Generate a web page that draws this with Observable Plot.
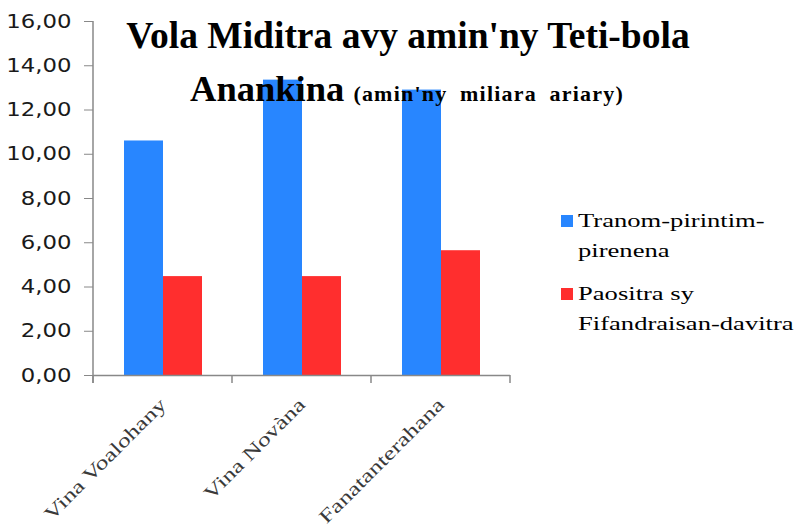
<!DOCTYPE html>
<html>
<head>
<meta charset="utf-8">
<script src="https://cdn.jsdelivr.net/npm/d3@7"></script>
<script src="https://cdn.jsdelivr.net/npm/@observablehq/plot@0.6"></script>
<style>
  html, body { margin: 0; padding: 0; background: #fff; }
  #chart { width: 798px; height: 530px; }
</style>
</head>
<body>
<div id="chart"></div>
<script>
const categories = ["Vina Voalohany", "Vina Novàna", "Fanatanterahana"];
const seriesNames = ["Tranom-pirintim-pirenena", "Paositra sy Fifandraisan-davitra"];
const tranomValues = [10.60, 13.35, 12.90];
const paositraValues = [4.47, 4.47, 5.64];
const yTicks = [0, 2, 4, 6, 8, 10, 12, 14, 16];
const seriesColors = ["#2886FF", "#FF2E2E"];
const titleLine1 = "Vola Miditra avy amin'ny Teti-bola";
const titleLine2 = "Anankina";
const titleUnit = "(amin'ny miliara ariary)";
const legendLines = [["Tranom-pirintim-", "pirenena"], ["Paositra sy", "Fifandraisan-davitra"]];

const data = [];
categories.forEach((c, i) => {
  data.push({category: c, series: seriesNames[0], value: tranomValues[i]});
  data.push({category: c, series: seriesNames[1], value: paositraValues[i]});
});

const fmt = d => d.toFixed(2).replace(".", ",");
const axisColor = "#888888";

const chart = Plot.plot({
  width: 798,
  height: 530,
  marginLeft: 92,
  marginRight: 288,
  marginTop: 21,
  marginBottom: 155,
  style: {background: "#fff", overflow: "visible", fontFamily: "'DejaVu Sans', sans-serif"},
  fx: {domain: categories, padding: 0, label: null},
  x: {domain: seriesNames, paddingInner: 0, paddingOuter: 0.78, axis: null},
  y: {domain: [0, 16], label: null},
  color: {domain: seriesNames, range: seriesColors},
  marks: [
    Plot.barY(data, {fx: "category", x: "series", y: "value", fill: "series"}),
    Plot.ruleY([0], {stroke: axisColor, strokeWidth: 1.5}),
    Plot.axisY({ticks: yTicks, tickFormat: fmt, tickSize: 9, tickPadding: 13, stroke: axisColor,
      fontSize: 19, fill: "#1a1a1a", label: null}),
    Plot.axisFx({anchor: "bottom", tickRotate: -45, tickSize: 0, tickPadding: 26, fontSize: 19,
      fontFamily: "'Liberation Serif', serif", fill: "#3a3a3a", label: null})
  ]
});

document.getElementById("chart").appendChild(chart);

const svg = d3.select(chart);
const fx = chart.scale("fx");
const y = chart.scale("y");
const y0 = y.apply(0);
const yTop = y.apply(16);
const left = fx.apply(categories[0]);
const bw = fx.bandwidth;

svg.selectAll('g[aria-label="y-axis tick label"] text').each(function() {
  const t = this.getAttribute("transform") || "";
  this.setAttribute("transform", t + " scale(1.2,1)");
});
svg.selectAll('g[aria-label="fx-axis tick label"] text').each(function() {
  const t = this.getAttribute("transform") || "";
  this.setAttribute("transform", t + " scale(1.35,1)");
});

const g = svg.append("g");
g.append("line").attr("x1", left).attr("x2", left).attr("y1", yTop).attr("y2", y0 + 8)
  .attr("stroke", axisColor).attr("stroke-width", 1.5);
const bounds = categories.map(c => fx.apply(c)).concat([fx.apply(categories[categories.length - 1]) + bw]);
bounds.forEach(b => {
  g.append("line").attr("x1", b).attr("x2", b).attr("y1", y0).attr("y2", y0 + 8)
    .attr("stroke", axisColor).attr("stroke-width", 1.5);
});

const title = svg.append("g").attr("font-family", "'Liberation Serif', serif").attr("font-weight", "bold")
  .attr("fill", "#000").attr("text-anchor", "middle");
title.append("text").attr("x", 408).attr("y", 48).attr("font-size", 37.5).text(titleLine1);
const t2 = title.append("text").attr("x", 407).attr("y", 101);
t2.append("tspan").attr("font-size", 36.5).text(titleLine2 + " ");
t2.append("tspan").attr("font-size", 22).attr("letter-spacing", 1.2).attr("word-spacing", 6).text(titleUnit);

const color = chart.scale("color");
const legend = svg.append("g").attr("font-family", "'Liberation Serif', serif").attr("font-size", 19)
  .attr("fill", "#000").attr("text-anchor", "start");
const legendBase = [227, 300];
seriesNames.forEach((s, i) => {
  legend.append("rect").attr("x", 561).attr("y", legendBase[i] - 12).attr("width", 12).attr("height", 12)
    .attr("fill", color.apply(s));
  legendLines[i].forEach((line, j) => {
    legend.append("text").attr("transform", `translate(578,${legendBase[i] + j * 29.5}) scale(1.4,1)`).text(line);
  });
});
</script>
</body>
</html>
